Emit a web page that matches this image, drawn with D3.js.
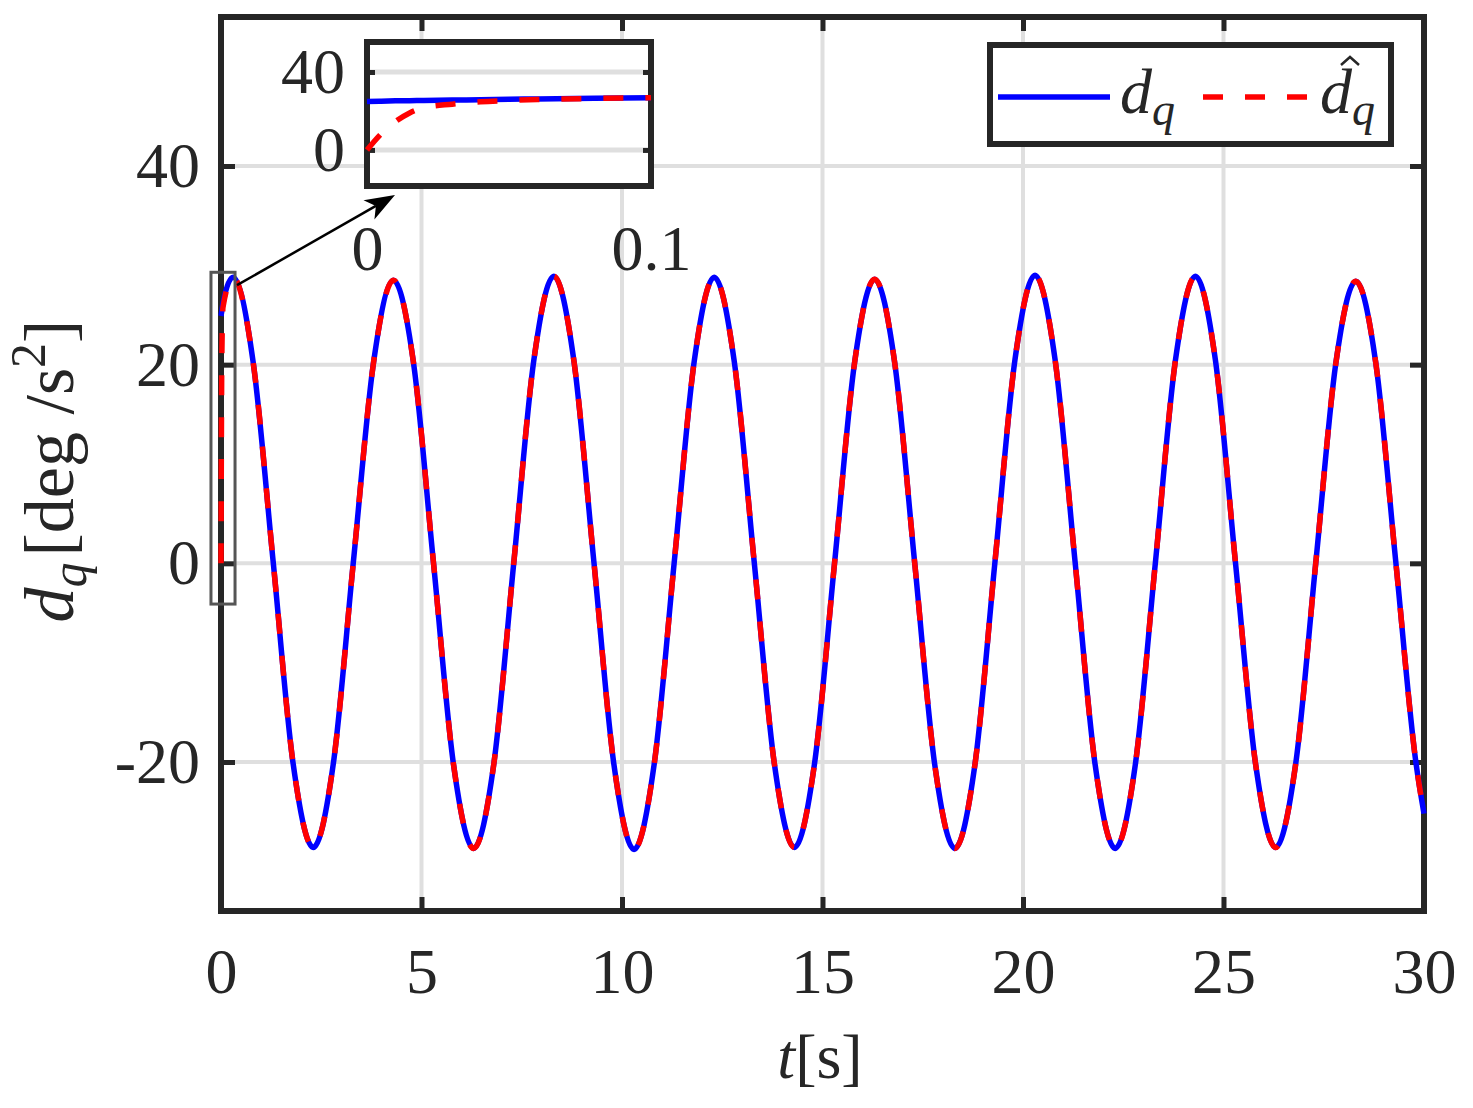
<!DOCTYPE html>
<html>
<head>
<meta charset="utf-8">
<script src="https://cdn.jsdelivr.net/npm/d3@7"></script>
<style>
  html, body { margin: 0; padding: 0; background: #fff; }
  svg text { font-family: "Liberation Serif", "Times New Roman", serif; fill: #262626; }
</style>
</head>
<body>
<svg id="chart" width="1473" height="1108"></svg>
<script>
// ---- data ----
const tMain = [0, 0.02, 0.05, 0.3,
  0.8, 1.3, 1.8, 2.3, 2.8, 3.3, 3.8, 4.3, 4.8, 5.3, 5.8, 6.3, 6.8, 7.3, 7.8, 8.3,
  8.8, 9.3, 9.8, 10.3, 10.8, 11.3, 11.8, 12.3, 12.8, 13.3, 13.8, 14.3, 14.8, 15.3, 15.8, 16.3,
  16.8, 17.3, 17.8, 18.3, 18.8, 19.3, 19.8, 20.3, 20.8, 21.3, 21.8, 22.3, 22.8, 23.3, 23.8, 24.3,
  24.8, 25.3, 25.8, 26.3, 26.8, 27.3, 27.8, 28.3, 28.8, 29.3, 29.8, 30];
const dqMain = [24.9, 25.4, 26.2, 28.8,
  20.3, 0.2, -20.2, -28.6, -20.2, 0.1, 20.1, 28.5, 20.2, 0, -20.3, -28.7, -20.3, 0, 20.4, 28.9,
  20.4, 0.1, -20.3, -28.8, -20.3, 0, 20.3, 28.8, 20.3, 0, -20.2, -28.6, -20.2, 0, 20.2, 28.6,
  20.2, 0, -20.3, -28.7, -20.3, 0.1, 20.5, 29.0, 20.5, 0.1, -20.3, -28.7, -20.3, 0, 20.4, 28.9,
  20.4, 0, -20.2, -28.6, -20.2, 0, 20.1, 28.4, 20.1, 0, -20.1, -25.2];
const dhatMain = [0, 20.5, 25.8, 28.8,
  20.3, 0.2, -20.2, -28.6, -20.2, 0.1, 20.1, 28.5, 20.2, 0, -20.3, -28.7, -20.3, 0, 20.4, 28.9,
  20.4, 0.1, -20.3, -28.8, -20.3, 0, 20.3, 28.8, 20.3, 0, -20.2, -28.6, -20.2, 0, 20.2, 28.6,
  20.2, 0, -20.3, -28.7, -20.3, 0.1, 20.5, 29.0, 20.5, 0.1, -20.3, -28.7, -20.3, 0, 20.4, 28.9,
  20.4, 0, -20.2, -28.6, -20.2, 0, 20.1, 28.4, 20.1, 0, -20.1, -25.2];

// zoomed inset, first 0.1 s
const tInset = [0, 0.005, 0.01, 0.015, 0.02, 0.03, 0.04, 0.05, 0.06, 0.08, 0.1];
const dqInset = [24.9, 25.0, 25.2, 25.3, 25.4, 25.6, 25.8, 26.0, 26.2, 26.5, 26.8];
const dhatInset = [0, 8.3, 14.5, 19.0, 21.7, 23.5, 24.7, 25.4, 25.9, 26.4, 26.8];

const xTicks = [0, 5, 10, 15, 20, 25, 30];
const yTicks = [-20, 0, 20, 40];
const insetXTicks = [0, 0.1];
const insetYTicks = [0, 40];
const zoomRegion = {t0: -0.25, t1: 0.35, v0: -4.1, v1: 29.3};

// ---- layout ----
const fontSize = 64;
const axisColor = "#262626";
const gridColor = "#dfdfdf";
const blue = "#0000ff", red = "#ff0000";
const dash = "20,22";
const lw = 5.5;

const svg = d3.select("#chart");

const x = d3.scaleLinear().domain([0, 30]).range([221, 1424]);
const y = d3.scaleLinear().domain([-35, 55]).range([911, 17]);

function drawFrame(g, xs, ys, xt, yt, opts) {
    const [x0, x1] = xs.range();
    const [y0, y1] = ys.range(); // y0 bottom, y1 top
    g.append("rect")
        .attr("x", x0).attr("y", y1)
        .attr("width", x1 - x0).attr("height", y0 - y1)
        .attr("fill", "#fff");

    // grid
    if (opts.vgrid) {
        g.append("g").selectAll("line").data(xt.filter(d => xs(d) > x0 + 1 && xs(d) < x1 - 1)).join("line")
            .attr("x1", d => xs(d)).attr("x2", d => xs(d))
            .attr("y1", y0).attr("y2", y1)
            .attr("stroke", gridColor).attr("stroke-width", opts.gridW);
    }
    g.append("g").selectAll("line").data(yt).join("line")
        .attr("x1", x0).attr("x2", x1)
        .attr("y1", d => ys(d)).attr("y2", d => ys(d))
        .attr("stroke", gridColor).attr("stroke-width", opts.gridW);

    const fmt = d => String(d);
    const bottom = g.append("g").attr("transform", `translate(0,${y0})`)
        .call(d3.axisBottom(xs).tickValues(xt).tickFormat(fmt)
            .tickSizeInner(opts.xTickLen).tickSizeOuter(0).tickPadding(opts.xPad));
    const left = g.append("g").attr("transform", `translate(${x0},0)`)
        .call(d3.axisLeft(ys).tickValues(yt).tickFormat(fmt)
            .tickSizeInner(-opts.tickLen).tickSizeOuter(0).tickPadding(opts.yPad));
    const top = g.append("g").attr("transform", `translate(0,${y1})`)
        .call(d3.axisTop(xs).tickValues(xt).tickFormat("")
            .tickSizeInner(opts.xTickLen).tickSizeOuter(0));
    const right = g.append("g").attr("transform", `translate(${x1},0)`)
        .call(d3.axisRight(ys).tickValues(yt).tickFormat("")
            .tickSizeInner(-opts.tickLen).tickSizeOuter(0));
    [bottom, left, top, right].forEach(a => {
        a.select(".domain").remove();
        a.selectAll("line").attr("stroke", axisColor).attr("stroke-width", opts.tickW);
        a.selectAll("text").attr("font-size", fontSize).attr("fill", axisColor)
            .attr("font-family", "Liberation Serif");
    });
    g.append("rect")
        .attr("x", x0).attr("y", y1)
        .attr("width", x1 - x0).attr("height", y0 - y1)
        .attr("fill", "none").attr("stroke", axisColor).attr("stroke-width", opts.boxW);
}

// ---- main axes ----
const main = svg.append("g");
drawFrame(main, x, y, xTicks, yTicks, {
    vgrid: true, gridW: 4, tickLen: 14, xTickLen: -14, tickW: 5, boxW: 6, xPad: 37, yPad: 21
});

const lineMain = (vals) => d3.line()
    .x((d, i) => x(tMain[i]))
    .y(d => y(d))
    .curve(d3.curveMonotoneX)(vals);

main.append("path").attr("d", lineMain(dqMain))
    .attr("fill", "none").attr("stroke", blue).attr("stroke-width", lw);
main.append("path").attr("d", lineMain(dhatMain))
    .attr("fill", "none").attr("stroke", red).attr("stroke-width", lw)
    .attr("stroke-dasharray", dash);

// zoom region marker
main.append("rect")
    .attr("x", x(zoomRegion.t0)).attr("y", y(zoomRegion.v1))
    .attr("width", x(zoomRegion.t1) - x(zoomRegion.t0))
    .attr("height", y(zoomRegion.v0) - y(zoomRegion.v1))
    .attr("fill", "none").attr("stroke", "#555").attr("stroke-width", 3);

// ---- inset ----
const ix = d3.scaleLinear().domain([0, 0.1]).range([367, 651]);
const iy = d3.scaleLinear().domain([-18.5, 55.4]).range([186, 42]);
const inset = svg.append("g");
drawFrame(inset, ix, iy, insetXTicks, insetYTicks, {
    vgrid: false, gridW: 5, tickLen: 8, xTickLen: 0, tickW: 5, boxW: 6, xPad: 39, yPad: 22
});
const lineInset = (vals) => d3.line()
    .x((d, i) => ix(tInset[i]))
    .y(d => iy(d))
    .curve(d3.curveMonotoneX)(vals);
inset.append("path").attr("d", lineInset(dqInset))
    .attr("fill", "none").attr("stroke", blue).attr("stroke-width", lw);
inset.append("path").attr("d", lineInset(dhatInset))
    .attr("fill", "none").attr("stroke", red).attr("stroke-width", lw)
    .attr("stroke-dasharray", dash);

// arrow from the marked region to the inset
const ax0 = x(zoomRegion.t1) + 2, ay0 = y(28);
const ax1 = ix(0) + 28, ay1 = iy.range()[0] + 9;
const ang = Math.atan2(ay1 - ay0, ax1 - ax0);
const headL = 30, headW = 11;
const bx = ax1 - headL * Math.cos(ang), by = ay1 - headL * Math.sin(ang);
const nx = -Math.sin(ang), ny = Math.cos(ang);
svg.append("line")
    .attr("x1", ax0).attr("y1", ay0).attr("x2", bx + 8 * Math.cos(ang)).attr("y2", by + 8 * Math.sin(ang))
    .attr("stroke", "#000").attr("stroke-width", 2.5);
svg.append("path")
    .attr("d", `M${ax1},${ay1} L${bx + nx * headW},${by + ny * headW} L${bx + 8 * Math.cos(ang)},${by + 8 * Math.sin(ang)} L${bx - nx * headW},${by - ny * headW} Z`)
    .attr("fill", "#000");

// ---- axis labels ----
const xl = svg.append("text")
    .attr("x", 820).attr("y", 1078)
    .attr("text-anchor", "middle").attr("font-size", fontSize);
xl.append("tspan").attr("font-style", "italic").text("t");
xl.append("tspan").text("[s]");

const yl = svg.append("text")
    .attr("transform", "translate(73,471) rotate(-90)")
    .attr("text-anchor", "middle").attr("font-size", 70);
yl.append("tspan").attr("font-style", "italic").text("d");
yl.append("tspan").attr("font-style", "italic").attr("font-size", 50).attr("dy", 13).text("q");
yl.append("tspan").attr("dy", -13).attr("dx", 6).text("[deg /s");
yl.append("tspan").attr("font-size", 50).attr("dy", -28).text("2");
yl.append("tspan").attr("dy", 28).text("]");

// ---- legend ----
const lg = svg.append("g");
lg.append("rect").attr("x", 990).attr("y", 45).attr("width", 401).attr("height", 99)
    .attr("fill", "#fff").attr("stroke", axisColor).attr("stroke-width", 6);
lg.append("line").attr("x1", 998).attr("x2", 1110).attr("y1", 97).attr("y2", 97)
    .attr("stroke", blue).attr("stroke-width", lw);
lg.append("line").attr("x1", 1203).attr("x2", 1312).attr("y1", 97).attr("y2", 97)
    .attr("stroke", red).attr("stroke-width", lw).attr("stroke-dasharray", dash);
const t1 = lg.append("text").attr("x", 1120).attr("y", 113).attr("font-size", fontSize)
    .attr("font-style", "italic");
t1.append("tspan").text("d");
t1.append("tspan").attr("font-size", 46).attr("dy", 12).text("q");
const t2 = lg.append("text").attr("x", 1320).attr("y", 113).attr("font-size", fontSize)
    .attr("font-style", "italic");
t2.append("tspan").text("d");
t2.append("tspan").attr("font-size", 46).attr("dy", 12).text("q");
// hat over d
lg.append("path").attr("d", "M1341,65 L1350,57 L1359,65")
    .attr("fill", "none").attr("stroke", axisColor).attr("stroke-width", 2.5);
</script>
</body>
</html>
